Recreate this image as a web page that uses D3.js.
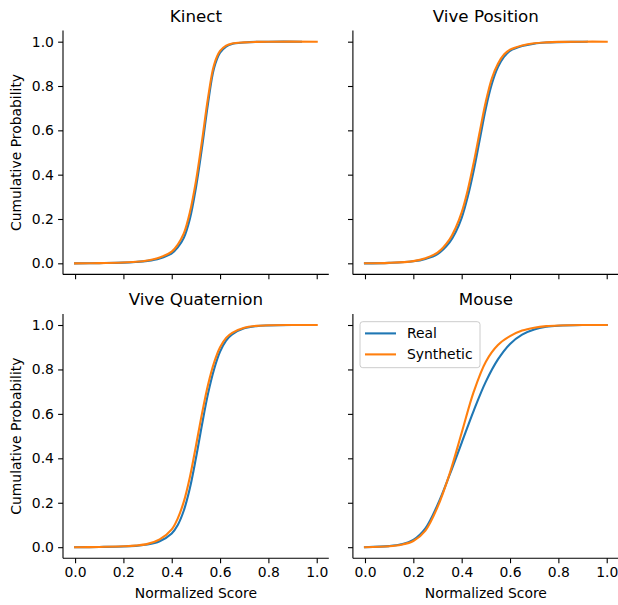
<!DOCTYPE html>
<html>
<head>
<meta charset="utf-8">
<script src="https://cdn.jsdelivr.net/npm/d3@7"></script>
<style>
  body { margin: 0; background: #fff; }
  svg { font-family: "DejaVu Sans", sans-serif; }
</style>
</head>
<body>
<div id="chart"></div>
<script>
// panel titles, series names, ticks
const titles = ["Kinect", "Vive Position", "Vive Quaternion", "Mouse"];
const seriesNames = ["Real", "Synthetic"];
const xTicks = [0, 0.2, 0.4, 0.6, 0.8, 1.0];
const yTicks = [0, 0.2, 0.4, 0.6, 0.8, 1.0];

// cumulative curves: [score, probability]
const kinectReal = [[0,0],[0.1,0.001],[0.2,0.003],[0.25,0.006],[0.3,0.011],[0.35,0.022],[0.4,0.045],[0.425,0.072],[0.45,0.115],[0.475,0.2],[0.5,0.34],[0.525,0.52],[0.55,0.72],[0.575,0.88],[0.6,0.95],[0.625,0.978],[0.65,0.99],[0.7,0.996],[0.75,0.999],[0.8,1],[0.935,1]];
const kinectSynth = [[0,0],[0.1,0.001],[0.2,0.004],[0.25,0.007],[0.3,0.013],[0.35,0.026],[0.4,0.053],[0.425,0.085],[0.45,0.135],[0.475,0.23],[0.5,0.37],[0.525,0.55],[0.55,0.745],[0.575,0.895],[0.6,0.958],[0.625,0.982],[0.65,0.992],[0.7,0.997],[0.75,0.999],[0.8,1],[1,1]];

const positionReal = [[0,0],[0.1,0.002],[0.2,0.009],[0.25,0.02],[0.3,0.042],[0.35,0.095],[0.375,0.14],[0.4,0.205],[0.425,0.3],[0.45,0.42],[0.475,0.56],[0.5,0.7],[0.525,0.81],[0.55,0.885],[0.575,0.932],[0.6,0.958],[0.65,0.98],[0.7,0.991],[0.75,0.996],[0.8,0.998],[0.917,1]];
const positionSynth = [[0,0],[0.1,0.002],[0.2,0.01],[0.25,0.023],[0.3,0.048],[0.35,0.108],[0.375,0.16],[0.4,0.23],[0.425,0.33],[0.45,0.455],[0.475,0.595],[0.5,0.73],[0.525,0.835],[0.55,0.9],[0.575,0.942],[0.6,0.964],[0.65,0.983],[0.7,0.993],[0.75,0.997],[0.8,0.999],[0.9,1],[1,1]];

const quatReal = [[0,0],[0.1,0.001],[0.2,0.003],[0.25,0.006],[0.3,0.012],[0.35,0.027],[0.4,0.062],[0.425,0.1],[0.45,0.165],[0.475,0.265],[0.5,0.4],[0.525,0.55],[0.55,0.69],[0.575,0.8],[0.6,0.88],[0.625,0.93],[0.65,0.958],[0.7,0.985],[0.75,0.995],[0.8,0.998],[0.9,1],[0.97,1]];
const quatSynth = [[0,0],[0.1,0.001],[0.2,0.004],[0.25,0.007],[0.3,0.015],[0.35,0.035],[0.4,0.08],[0.425,0.13],[0.45,0.205],[0.475,0.315],[0.5,0.455],[0.525,0.6],[0.55,0.73],[0.575,0.83],[0.6,0.9],[0.625,0.942],[0.65,0.965],[0.7,0.988],[0.75,0.996],[0.8,0.999],[0.9,1],[1,1]];

const mouseReal = [[0,0],[0.1,0.005],[0.15,0.013],[0.2,0.033],[0.25,0.085],[0.3,0.19],[0.35,0.325],[0.4,0.47],[0.45,0.615],[0.5,0.745],[0.55,0.845],[0.6,0.915],[0.65,0.957],[0.7,0.98],[0.75,0.992],[0.8,0.997],[0.9,1],[1,1]];
const mouseSynth = [[0,0],[0.1,0.004],[0.15,0.011],[0.2,0.028],[0.25,0.075],[0.3,0.18],[0.35,0.33],[0.4,0.515],[0.45,0.7],[0.5,0.835],[0.55,0.91],[0.6,0.95],[0.65,0.975],[0.7,0.988],[0.75,0.995],[0.8,0.998],[0.9,1],[1,1]];

const panelData = [
  [kinectReal, kinectSynth],
  [positionReal, positionSynth],
  [quatReal, quatSynth],
  [mouseReal, mouseSynth]
];

const colors = ["#1f77b4", "#ff7f0e"];
const W = 618, H = 605;

// axes boxes (left, right, top, bottom) in pixels
const cols = [[63, 328.8], [352.9, 618.8]];
const rows = [[30.6, 274.4], [313.9, 558.3]];

const svg = d3.select("#chart").append("svg")
    .attr("width", W)
    .attr("height", H);

panelData.forEach((series, i) => {
  const r = Math.floor(i / 2), c = i % 2;
  const x = d3.scaleLinear().domain([-0.05, 1.05]).range(cols[c]);
  const y = d3.scaleLinear().domain([-0.05, 1.05]).range([rows[r][1], rows[r][0]]);
  const g = svg.append("g");

  // curves
  const line = d3.line()
      .x(d => x(d[0]))
      .y(d => y(d[1]))
      .curve(d3.curveCatmullRom.alpha(0.5));
  series.forEach((s, k) => {
    g.append("path")
      .datum(s)
      .attr("fill", "none")
      .attr("stroke", colors[k])
      .attr("stroke-width", 2.1)
      .attr("stroke-linejoin", "round")
      .attr("stroke-linecap", "square")
      .attr("d", line);
  });

  // x axis
  const xAxis = d3.axisBottom(x).tickValues(xTicks).tickSize(4.9).tickPadding(4.2)
      .tickFormat(r === 1 ? d3.format(".1f") : () => "");
  const gx = g.append("g")
      .attr("transform", `translate(0,${rows[r][1]})`)
      .call(xAxis);

  // y axis
  const yAxis = d3.axisLeft(y).tickValues(yTicks).tickSize(4.9).tickPadding(4.2)
      .tickFormat(c === 0 ? d3.format(".1f") : () => "");
  const gy = g.append("g")
      .attr("transform", `translate(${cols[c][0]},0)`)
      .call(yAxis);

  [gx, gy].forEach(a => {
    a.select(".domain").attr("stroke", "#000").attr("stroke-width", 1.1);
    a.selectAll(".tick line").attr("stroke", "#000").attr("stroke-width", 1.1);
    a.selectAll(".tick text")
      .attr("fill", "#000")
      .style("font-family", "DejaVu Sans")
      .style("font-size", "13.9px");
    a.attr("font-family", null).attr("font-size", null);
  });
  // matplotlib draws the spines straight, without the end caps
  gx.select(".domain").attr("d", `M${cols[c][0]},0H${cols[c][1]}`);
  gy.select(".domain").attr("d", `M0,${rows[r][1]}V${rows[r][0]}`);

  // title
  g.append("text")
    .attr("x", (cols[c][0] + cols[c][1]) / 2)
    .attr("y", rows[r][0] - 8.6)
    .attr("text-anchor", "middle")
    .style("font-size", "16.7px")
    .text(titles[i]);

  if (r === 1) {
    g.append("text")
      .attr("x", (cols[c][0] + cols[c][1]) / 2)
      .attr("y", 598)
      .attr("text-anchor", "middle")
      .style("font-size", "13.9px")
      .text("Normalized Score");
  }
  if (c === 0) {
    g.append("text")
      .attr("transform", `translate(21,${(rows[r][0] + rows[r][1]) / 2}) rotate(-90)`)
      .attr("text-anchor", "middle")
      .style("font-size", "13.9px")
      .text("Cumulative Probability");
  }

  // legend in the Mouse panel
  if (i === 3) {
    const lg = g.append("g").attr("transform", "translate(360,321.7)");
    lg.append("rect")
      .attr("width", 120)
      .attr("height", 46)
      .attr("rx", 2.8)
      .attr("fill", "#fff")
      .attr("fill-opacity", 0.8)
      .attr("stroke", "#cccccc")
      .attr("stroke-width", 1);
    seriesNames.forEach((name, k) => {
      const yy = 11.7 + k * 21;
      lg.append("line")
        .attr("x1", 5).attr("x2", 36)
        .attr("y1", yy).attr("y2", yy)
        .attr("stroke", colors[k])
        .attr("stroke-width", 2.1);
      lg.append("text")
        .attr("x", 47)
        .attr("y", yy + 5)
        .style("font-size", "13.9px")
        .text(name);
    });
  }
});
</script>
</body>
</html>
